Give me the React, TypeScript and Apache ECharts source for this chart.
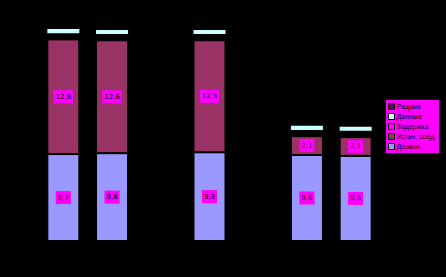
import React, { useEffect, useRef } from "react";
import * as echarts from "echarts";

const categories = ["1", "2", "3", "4", "5", "6", "7"];
const dozvon = [9.7, 9.8, null, 9.9, null, 9.6, 9.5];
const ustan = [12.8, 12.6, null, 12.5, null, 2.1, 2.1];
const zaderzhka = [0.7, 0.7, null, 0.7, null, 0.7, 0.7];
const dannye = [0.45, 0.45, null, 0.45, null, 0.45, 0.45];
const razryv = [0, 0, null, 0, null, 0, 0];
const legendOrder = ["Разрыв", "Данные", "Задержка", "Устан. соед.", "Дозвон"];

export default function App() {
  const ref = useRef<HTMLDivElement>(null);
  useEffect(() => {
    const chart = echarts.init(ref.current!, null, { renderer: "svg" });
    const label = {
      show: true,
      position: "inside",
      backgroundColor: "#FF00FF",
      color: "#000",
      fontSize: 7,
      fontFamily: "DejaVu Sans",
      padding: [3, 2, 3, 2],
      formatter: (p: any) => String(p.value).replace(".", ","),
    };
    const mk = (name: string, data: any[], color: string, withLabel: boolean, bw = 1) => ({
      name,
      type: "bar",
      stack: "s",
      data,
      barWidth: 32,
      itemStyle: { color, borderColor: "#000", borderWidth: bw },
      label: withLabel ? label : { show: false },
    });
    chart.setOption({
      animation: false,
      backgroundColor: "#000",
      grid: { left: 39, right: 66, top: 17, bottom: 36 },
      xAxis: {
        type: "category",
        data: categories,
        axisLine: { show: false },
        axisTick: { show: false },
        axisLabel: { show: false },
      },
      yAxis: {
        type: "value",
        min: 0,
        max: 25,
        show: false,
        splitLine: { show: false },
      },
      legend: {
        data: legendOrder,
        orient: "vertical",
        left: 386,
        top: 100,
        backgroundColor: "#FF00FF",
        padding: [3, 3, 3, 2],
        icon: "rect",
        itemWidth: 6,
        itemHeight: 6,
        itemGap: 3,
        textStyle: { color: "#000", fontSize: 7, fontFamily: "Liberation Sans", padding: [0, 0, 0, -3] },
        itemStyle: { borderColor: "#000", borderWidth: 1 },
      },
      series: [
        mk("Дозвон", dozvon, "#9999FF", true),
        mk("Устан. соед.", ustan, "#993366", true),
        mk("Задержка", zaderzhka, "rgba(0,0,0,0)", false, 0),
        mk("Данные", dannye, "#CCFFFF", false, 0),
        mk("Разрыв", razryv, "#660066", false, 0),
      ],
    });
    return () => chart.dispose();
  }, []);
  return (
    <div
      ref={ref}
      style={{ position: "fixed", left: 0, top: 0, width: 446, height: 277 }}
    />
  );
}
